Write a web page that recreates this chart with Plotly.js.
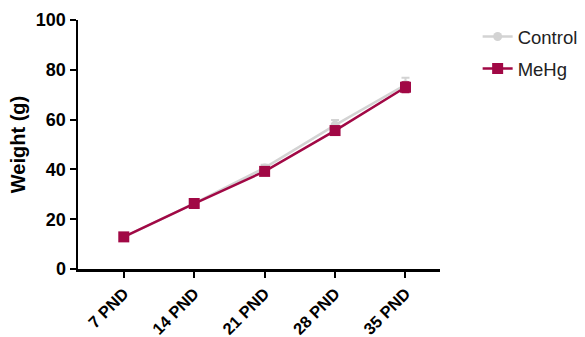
<!DOCTYPE html>
<html><head><meta charset="utf-8">
<script src="https://cdn.plot.ly/plotly-3.0.1.min.js"></script>
<style>body{margin:0;background:#fff}</style>
</head><body><div id="chart" style="width:585px;height:337px"></div>
<script>
const categories = ["7 PND", "14 PND", "21 PND", "28 PND", "35 PND"];
const controlValues = [12.8, 26.4, 40.6, 57.8, 74.0];
const controlErr = [0.8, 1.0, 1.3, 2.0, 2.8];
const mehgValues = [12.9, 26.3, 39.2, 55.6, 73.0];
const mehgErr = [0.7, 0.9, 1.0, 1.5, 2.0];

const traces = [
  {x: categories, y: controlValues, name: "Control", type: "scatter", mode: "lines+markers",
   line: {color: "#d3d3d3", width: 2.5}, marker: {symbol: "circle", size: 9, color: "#d3d3d3"},
   error_y: {type: "data", array: controlErr, color: "#d3d3d3", thickness: 2, width: 4},
   legendgroup: "a"},
  {x: categories, y: mehgValues, name: "MeHg", type: "scatter", mode: "lines+markers",
   line: {color: "#a10845", width: 2.5}, marker: {symbol: "square", size: 11, color: "#a10845"},
   error_y: {type: "data", array: mehgErr, color: "#a10845", thickness: 2, width: 4},
   legendgroup: "b"}
];
const layout = {
  width: 585, height: 337,
  margin: {l: 78, r: 145, t: 20, b: 68, autoexpand: false},
  paper_bgcolor: "#fff", plot_bgcolor: "#fff",
  font: {family: "Liberation Sans, Arial, sans-serif", color: "#000"},
  xaxis: {type: "category", range: [-0.65, 4.49], showgrid: false, zeroline: false, automargin: false,
    showline: true, linecolor: "#000", linewidth: 2.5, ticks: "outside", ticklen: 6, tickwidth: 2,
    tickcolor: "#000", tickangle: -45, tickfont: {size: 16.5, weight: "bold"}},
  yaxis: {range: [0, 100], tickvals: [0, 20, 40, 60, 80, 100], showgrid: false, zeroline: false, automargin: false,
    showline: true, linecolor: "#000", linewidth: 2.5, ticks: "outside", ticklen: 6, tickwidth: 2,
    tickcolor: "#000", tickfont: {size: 18, weight: "bold"},
    title: {text: "Weight (g)", font: {size: 20, weight: "bold"}, standoff: 5}},
  legend: {x: 1.104, y: 1.008, xanchor: "left", yanchor: "top", font: {size: 18.5, color: "#222"},
    tracegroupgap: 5, bgcolor: "rgba(0,0,0,0)"},
  showlegend: true
};
Plotly.newPlot("chart", traces, layout, {displayModeBar: false, staticPlot: true});
</script></body></html>
